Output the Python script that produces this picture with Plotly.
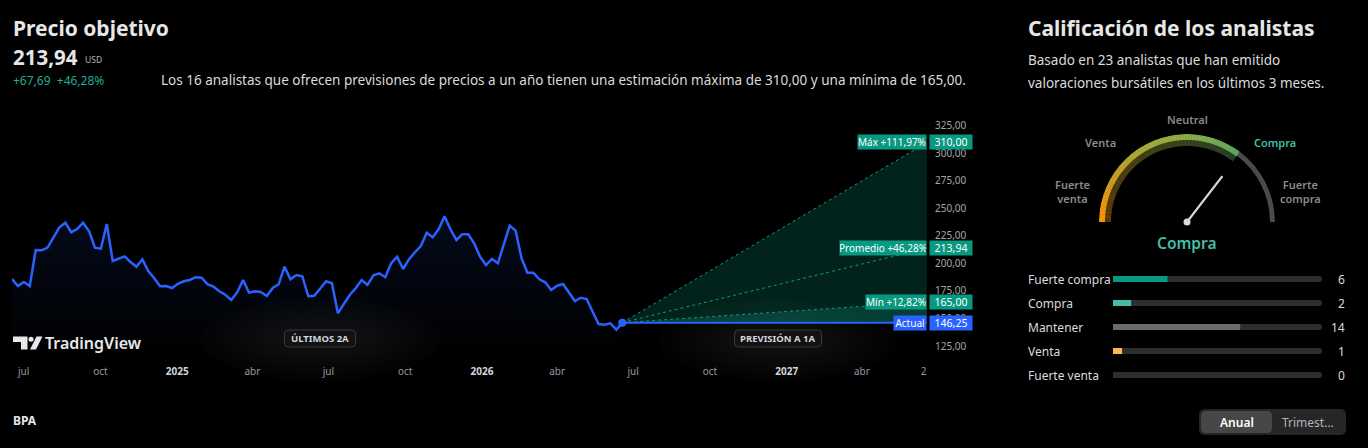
import plotly.graph_objects as go
import pandas as pd
import numpy as np

W, H = 1368, 448
FONT = "Noto Sans"

# ---------------- data ----------------
hist_values = [
    185.9, 179.5, 183.2, 179.5, 212.3, 212.0, 214.4, 224.1, 232.9, 237.1,
    228.4, 231.4, 237.1, 229.5, 214.4, 213.5, 235.9, 202.3, 204.4, 206.5,
    201.4, 197.1, 203.8, 193.2, 186.5, 179.3, 179.5, 177.7, 181.6, 183.8,
    185.0, 187.5, 187.1, 181.1, 178.9, 174.7, 171.6, 166.8, 173.8, 185.0,
    173.5, 174.7, 174.1, 170.5, 177.7, 181.1, 197.1, 185.6, 189.5, 188.4,
    170.2, 170.7, 177.1, 183.8, 182.0,
    154.7, 163.2, 171.4, 177.5, 185.0, 180.5, 189.3, 191.1, 187.5, 200.2,
    206.2, 195.0, 203.8, 210.2, 215.9, 228.0, 223.8, 231.1, 242.9, 231.1,
    221.4, 226.5, 226.5, 218.4, 206.2, 198.6, 204.1, 200.2, 217.5, 234.4,
    229.8, 204.7, 191.6, 191.6, 185.6, 182.9, 175.9, 179.8, 181.4, 173.5,
    165.9, 168.9, 167.7, 156.2, 145.0, 144.4, 145.6, 139.8, 146.25,
]
hist_start = "2024-06-17"
current_date = "2026-06-18"
forecast_date = "2027-06-18"
current_price = 146.25
target_max = 310.00
target_avg = 213.94
target_min = 165.00
n_target_analysts = 16

x_tick_dates = ["2024-07-01", "2024-10-01", "2025-01-01", "2025-04-01", "2025-07-01",
                "2025-10-01", "2026-01-01", "2026-04-01", "2026-07-01", "2026-10-01",
                "2027-01-01", "2027-04-01", "2027-06-14"]
x_tick_labels = ["jul", "oct", "2025", "abr", "jul", "oct", "2026", "abr", "jul", "oct",
                 "2027", "abr", "2"]
y_tick_values = [125, 150, 175, 200, 225, 250, 275, 300, 325]

rating_labels = ["Fuerte compra", "Compra", "Mantener", "Venta", "Fuerte venta"]
rating_counts = [6, 2, 14, 1, 0]
n_rating_analysts = 23
gauge_labels = ["Fuerte<br>venta", "Venta", "Neutral", "Compra", "Fuerte<br>compra"]
gauge_result = "Compra"
gauge_needle_deg = 52.4
gauge_fill_end_deg = 53

# ---------------- helpers ----------------
def fmt(v):
    return f"{v:,.2f}".replace(",", "X").replace(".", ",").replace("X", ".")

def pct(v):
    return f"+{(v / current_price - 1) * 100:.2f}%".replace(".", ",")

def px(x):
    return x / W

def py(y):
    return 1 - y / H

annotations = []
shapes = []

def txt(x, y, s, size, color, xanchor="left", weight=400, family=FONT):
    annotations.append(dict(x=px(x), y=py(y), xref="paper", yref="paper", text=s,
                            showarrow=False, xanchor=xanchor, yanchor="middle",
                            font=dict(size=size, color=color, family=family, weight=weight)))

def rrect(x0, y0, x1, y1, r, color, layer="below", border=None):
    a0, a1 = px(x0), px(x1)
    b0, b1 = py(y0), py(y1)
    rx, ry = r / W, r / H
    path = (f"M{a0+rx},{b0} L{a1-rx},{b0} Q{a1},{b0} {a1},{b0-ry} "
            f"L{a1},{b1+ry} Q{a1},{b1} {a1-rx},{b1} L{a0+rx},{b1} Q{a0},{b1} {a0},{b1+ry} "
            f"L{a0},{b0-ry} Q{a0},{b0} {a0+rx},{b0} Z")
    line = dict(width=1, color=border) if border else dict(width=0)
    shapes.append(dict(type="path", xref="paper", yref="paper", path=path,
                       fillcolor=color, line=line, layer=layer))

TEAL = "#089981"
BLUE = "#2962ff"
fig = go.Figure()

# ---------------- main price chart ----------------
dates = pd.date_range(hist_start, current_date, periods=len(hist_values))
fig.add_trace(go.Scatter(
    x=dates, y=hist_values, mode="lines", line=dict(color=BLUE, width=2.5),
    fill="tozeroy",
    fillgradient=dict(type="vertical", start=114, stop=245,
                      colorscale=[[0, "rgba(41,98,255,0)"], [1, "rgba(41,98,255,0.11)"]]),
    hoverinfo="skip", showlegend=False))

fx = [current_date, forecast_date]
fig.add_trace(go.Scatter(x=fx, y=[current_price, target_max], mode="lines",
                         line=dict(color=TEAL, width=1, dash="dot"), showlegend=False))
fig.add_trace(go.Scatter(x=fx, y=[current_price, target_min], mode="lines",
                         line=dict(color=TEAL, width=1, dash="dot"), fill="tonexty",
                         fillcolor="rgba(8,153,129,0.22)", showlegend=False))
fig.add_trace(go.Scatter(x=fx, y=[current_price, current_price], mode="lines",
                         line=dict(color=BLUE, width=2), fill="tonexty",
                         fillcolor="rgba(8,153,129,0.40)", showlegend=False))
fig.add_trace(go.Scatter(x=fx, y=[current_price, target_avg], mode="lines",
                         line=dict(color=TEAL, width=1, dash="dot"), showlegend=False))
fig.add_trace(go.Scatter(x=[current_date], y=[current_price], mode="markers",
                         marker=dict(color=BLUE, size=8), showlegend=False))

# forecast labels
for name, val, w, col in [("Máx", target_max, 72, TEAL), ("Promedio", target_avg, 90, TEAL),
                          ("Mín", target_min, 64, TEAL), ("Actual", current_price, 36, BLUE)]:
    label = name if name == "Actual" else f"{name} {pct(val)}"
    annotations.append(dict(x=forecast_date, y=val, xref="x", yref="y", text=label,
                            showarrow=False, xanchor="right", yanchor="middle",
                            bgcolor=col, width=w - 4, height=14, borderpad=0,
                            font=dict(size=10, color="#ffffff", family=FONT)))
    annotations.append(dict(x=px(929), y=val, xref="paper", yref="y", text=fmt(val),
                            showarrow=False, xanchor="left", yanchor="middle",
                            bgcolor=col, width=42, height=14, borderpad=0,
                            font=dict(size=10.5, color="#ffffff", family=FONT)))

tick_text = []
for d, t in zip(x_tick_dates, x_tick_labels):
    if t.isdigit() and len(t) == 4:
        tick_text.append(f"<b><span style='color:#d1d4dc'>{t}</span></b>")
    else:
        tick_text.append(t)

# pills with soft glow
for cx, label, pw in [(320, "ÚLTIMOS 2A", 71), (778, "PREVISIÓN A 1A", 87)]:
    for k in range(12):
        f = 1 - k / 12
        rw, rh = 45 + 75 * f, 14 + 28 * f
        shapes.append(dict(type="circle", xref="paper", yref="paper",
                           x0=px(cx - rw), x1=px(cx + rw), y0=py(340 + rh), y1=py(340 - rh),
                           fillcolor="rgba(255,255,255,0.009)", line=dict(width=0), layer="below"))
    rrect(cx - pw / 2, 330, cx + pw / 2, 347, 4, "#121212", layer="above", border="#3a3a3a")
    txt(cx, 338.5, f"<b>{label}</b>", 9.5, "#d1d4dc", xanchor="center")

# TradingView logo
shapes.append(dict(type="path", xref="paper", yref="paper", layer="above",
                   path=f"M{px(13)},{py(336.5)} L{px(27.5)},{py(336.5)} L{px(27.5)},{py(349.5)} "
                        f"L{px(21)},{py(349.5)} L{px(21)},{py(342)} L{px(13)},{py(342)} Z",
                   fillcolor="#e8e8e8", line=dict(width=0)))
shapes.append(dict(type="circle", xref="paper", yref="paper", layer="above",
                   x0=px(28.5), x1=px(33.5), y0=py(341.7), y1=py(336.7),
                   fillcolor="#e8e8e8", line=dict(width=0)))
shapes.append(dict(type="path", xref="paper", yref="paper", layer="above",
                   path=f"M{px(30)},{py(349.5)} L{px(36.5)},{py(336.5)} L{px(42.5)},{py(336.5)} "
                        f"L{px(36)},{py(349.5)} Z",
                   fillcolor="#e8e8e8", line=dict(width=0)))
txt(43, 343, "TradingView", 16, "#e8e8e8", weight=600)

# ---------------- headers ----------------
txt(11, 28, "Precio objetivo", 21, "#e6e6e6", weight=700)
txt(11, 57, "213,94", 20.5, "#e6e6e6", weight=700)
txt(83, 60, "USD", 8.5, "#b2b5be")
txt(11, 80, f"+{fmt(target_avg - current_price)}  {pct(target_avg)}", 12, "#22ab94")
txt(159, 80, f"Los {n_target_analysts} analistas que ofrecen previsiones de precios a un año tienen "
             f"una estimación máxima de {fmt(target_max)} y una mínima de {fmt(target_min)}.",
    13.5, "#dbdbdb")

txt(1026, 28, "Calificación de los analistas", 21, "#e6e6e6", weight=700)
txt(1026, 60, f"Basado en {n_rating_analysts} analistas que han emitido", 13.5, "#dbdbdb")
txt(1026, 83, "valoraciones bursátiles en los últimos 3 meses.", 13.5, "#dbdbdb")

# ---------------- gauge ----------------
theta_grad = np.arange(gauge_fill_end_deg + 0.5, 180, 1.0)
gscale = [[0, "#5fa862"], [0.3, "#93ae4a"], [0.55, "#aaab3c"], [0.8, "#cf9d22"], [1, "#ff9800"]]
fig.add_trace(go.Barpolar(theta=theta_grad, r=[6] * len(theta_grad), base=82, width=1.25,
                          marker=dict(color=theta_grad, colorscale=gscale, cmin=gauge_fill_end_deg,
                                      cmax=180, line=dict(width=0)),
                          hoverinfo="skip", showlegend=False))
fig.add_trace(go.Barpolar(theta=theta_grad, r=[6] * len(theta_grad), base=76, width=1.25,
                          marker=dict(color=theta_grad, colorscale=gscale, cmin=gauge_fill_end_deg,
                                      cmax=180, line=dict(width=0), opacity=0.33),
                          hoverinfo="skip", showlegend=False))
fig.add_trace(go.Barpolar(theta=[gauge_fill_end_deg / 2], r=[5], base=83, width=gauge_fill_end_deg,
                          marker=dict(color="#4a4a4a", line=dict(width=0)),
                          hoverinfo="skip", showlegend=False))
fig.add_trace(go.Scatterpolar(r=[0, 58], theta=[gauge_needle_deg, gauge_needle_deg], mode="lines",
                              line=dict(color="#d9d9d9", width=2.2), hoverinfo="skip", showlegend=False))
fig.add_trace(go.Scatterpolar(r=[0], theta=[0], mode="markers",
                              marker=dict(color="#d9d9d9", size=7), hoverinfo="skip", showlegend=False))

gl_pos = [(1072, 191), (1100, 142), (1187, 120), (1275, 142), (1300, 191)]
for (gx, gy), lab in zip(gl_pos, gauge_labels):
    col = "#42bda8" if lab == gauge_result else "#8a8a8a"
    txt(gx, gy, lab, 11, col, xanchor="center", weight=600)
txt(1187, 243, gauge_result, 15.5, "#42bda8", xanchor="center", weight=600)

# ---------------- rating bars ----------------
rating_colors = ["#089981", "#42bda8", "#6b6b6b", "#ffb74d", "#6b6b6b"]
fig.add_trace(go.Bar(x=[n_rating_analysts] * len(rating_labels), y=rating_labels, orientation="h",
                     xaxis="x2", yaxis="y2", width=0.25, marker=dict(color="#2e2e2e", line=dict(width=0)),
                     hoverinfo="skip", showlegend=False))
fig.add_trace(go.Bar(x=rating_counts, y=rating_labels, orientation="h",
                     xaxis="x2", yaxis="y2", width=0.25, marker=dict(color=rating_colors, line=dict(width=0)),
                     hoverinfo="skip", showlegend=False))
for lab, cnt in zip(rating_labels, rating_counts):
    annotations.append(dict(x=px(1026), y=lab, xref="paper", yref="y2", text=lab, showarrow=False,
                            xanchor="left", yanchor="middle",
                            font=dict(size=12, color="#dbdbdb", family=FONT)))
    annotations.append(dict(x=px(1347), y=lab, xref="paper", yref="y2", text=str(cnt), showarrow=False,
                            xanchor="right", yanchor="middle",
                            font=dict(size=12, color="#dbdbdb", family=FONT)))

# ---------------- bottom ----------------
txt(11, 420, "BPA", 12, "#e6e6e6", weight=700)
rrect(1199, 409, 1346, 435, 6, "#262626")
rrect(1201, 411, 1272, 433, 5, "#474747")
txt(1237, 422, "Anual", 12, "#ffffff", xanchor="center", weight=600)
txt(1308, 422, "Trimest...", 12, "#b2b5be", xanchor="center")

# ---------------- layout ----------------
fig.update_layout(
    width=W, height=H, margin=dict(l=0, r=0, t=0, b=0),
    paper_bgcolor="#000000", plot_bgcolor="rgba(0,0,0,0)",
    separators=",.", showlegend=False, barmode="overlay", barcornerradius=3,
    font=dict(family=FONT, color="#dbdbdb"),
    xaxis=dict(domain=[px(12), px(927)], range=[hist_start, forecast_date], type="date",
               showgrid=False, zeroline=False, showline=False, ticks="",
               tickvals=x_tick_dates, ticktext=tick_text, tickangle=0,
               tickfont=dict(size=10, color="#9598a1", family=FONT), ticklabelstandoff=6),
    yaxis=dict(domain=[py(358), py(110)], range=[114.1, 339.5], side="right",
               showgrid=False, zeroline=False, showline=False, ticks="",
               tickvals=y_tick_values, tickformat=".2f",
               tickfont=dict(size=10, color="#a3a6af", family=FONT), ticklabelstandoff=7),
    xaxis2=dict(domain=[px(1113), px(1322)], range=[0, n_rating_analysts], anchor="y2",
                visible=False, fixedrange=True),
    yaxis2=dict(domain=[py(387), py(267)], range=[4.5, -0.5], anchor="x2", type="category",
                categoryorder="array", categoryarray=rating_labels, visible=False),
    polar=dict(domain=dict(x=[px(1099), px(1275)], y=[py(222), py(134)]), sector=[0, 180],
               hole=0, bgcolor="rgba(0,0,0,0)",
               radialaxis=dict(visible=False, range=[0, 88]),
               angularaxis=dict(visible=False, rotation=0, direction="counterclockwise")),
    annotations=annotations, shapes=shapes,
)

fig.write_html("out.html")
